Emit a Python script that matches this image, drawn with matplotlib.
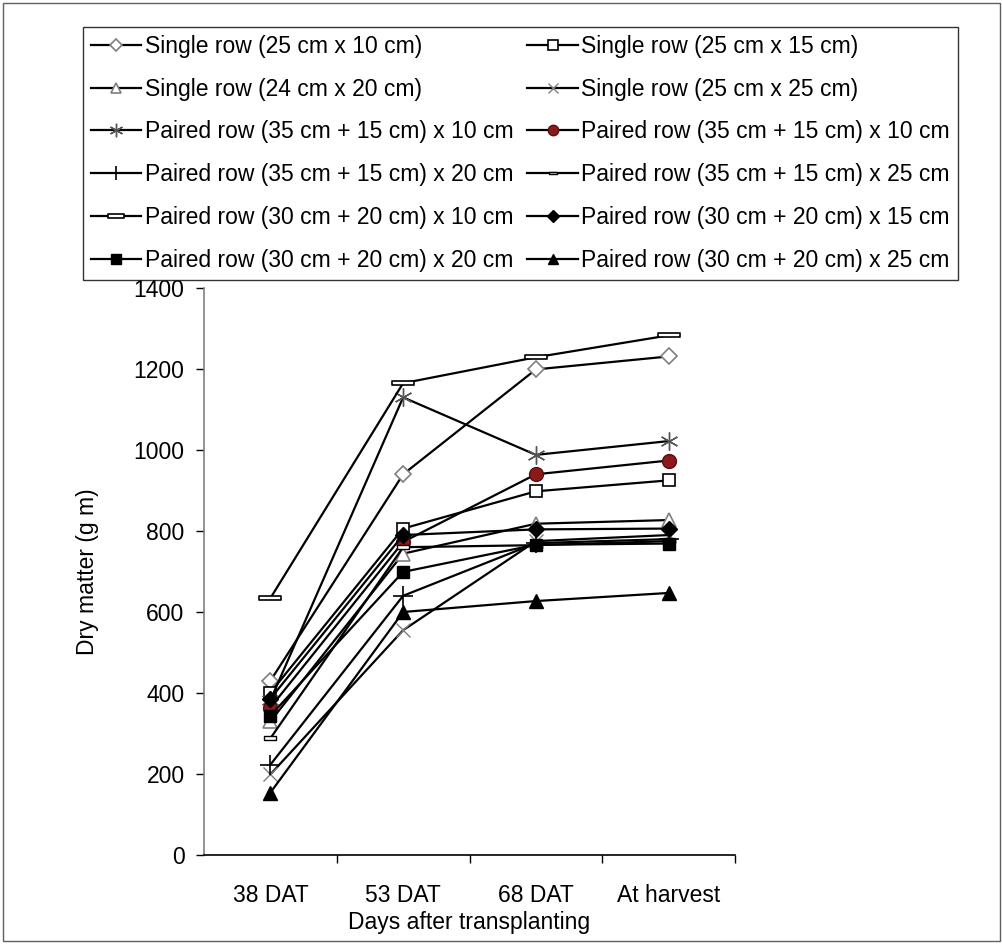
import matplotlib
matplotlib.use("Agg")
import matplotlib.pyplot as plt
from matplotlib.path import Path
from matplotlib.patches import Rectangle

plt.rcParams["font.family"] = ["Liberation Sans", "DejaVu Sans"]

# categories and values
stages = ["38 DAT", "53 DAT", "68 DAT", "At harvest"]

labels = [
    "Single row (25 cm x 10 cm)",
    "Single row (25 cm x 15 cm)",
    "Single row (24 cm x 20 cm)",
    "Single row (25 cm x 25 cm)",
    "Paired row (35 cm + 15 cm) x 10 cm",
    "Paired row (35 cm + 15 cm) x 10 cm",
    "Paired row (35 cm + 15 cm) x 20 cm",
    "Paired row (35 cm + 15 cm) x 25 cm",
    "Paired row (30 cm + 20 cm) x 10 cm",
    "Paired row (30 cm + 20 cm) x 15 cm",
    "Paired row (30 cm + 20 cm) x 20 cm",
    "Paired row (30 cm + 20 cm) x 25 cm",
]

sr_25x10 = [430, 940, 1199, 1231]
sr_25x15 = [401, 806, 898, 925]
sr_24x20 = [330, 744, 818, 827]
sr_25x25 = [199, 555, 775, 790]
pr_35_15_x10a = [382, 1130, 988, 1022]
pr_35_15_x10b = [364, 773, 940, 974]
pr_35_15_x20 = [223, 640, 770, 780]
pr_35_15_x25 = [288, 760, 765, 775]
pr_30_20_x10 = [634, 1165, 1229, 1283]
pr_30_20_x15 = [386, 790, 804, 806]
pr_30_20_x20 = [344, 699, 766, 769]
pr_30_20_x25 = [154, 600, 627, 647]

series = [sr_25x10, sr_25x15, sr_24x20, sr_25x25,
          pr_35_15_x10a, pr_35_15_x10b, pr_35_15_x20, pr_35_15_x25,
          pr_30_20_x10, pr_30_20_x15, pr_30_20_x20, pr_30_20_x25]

# bar-shaped markers like Excel's dash / long dash
long_bar = Path([(-1, -0.22), (1, -0.22), (1, 0.22), (-1, 0.22), (-1, -0.22)],
                [Path.MOVETO, Path.LINETO, Path.LINETO, Path.LINETO, Path.CLOSEPOLY])
short_bar = Path([(-1, -0.3), (1, -0.3), (1, 0.3), (-1, 0.3), (-1, -0.3)],
                 [Path.MOVETO, Path.LINETO, Path.LINETO, Path.LINETO, Path.CLOSEPOLY])

styles = [
    dict(marker="D", ms=8, mfc="white", mec="#7f7f7f", mew=1.2),
    dict(marker="s", ms=9, mfc="white", mec="black", mew=1.2),
    dict(marker="^", ms=10, mfc="white", mec="#7f7f7f", mew=1.2),
    dict(marker="x", ms=10, mfc="none", mec="#7f7f7f", mew=1.0),
    dict(marker=(6, 2, 0), ms=13, mfc="none", mec="#555555", mew=1.0),
    dict(marker="o", ms=10, mfc="#8b1a1a", mec="#5a1010", mew=1.0),
    dict(marker="+", ms=14, mfc="none", mec="black", mew=1.2),
    dict(marker=short_bar, ms=8, mfc="white", mec="black", mew=1.0),
    dict(marker=long_bar, ms=16, mfc="white", mec="black", mew=1.2),
    dict(marker="D", ms=8, mfc="black", mec="black", mew=1.0),
    dict(marker="s", ms=9, mfc="black", mec="black", mew=1.0),
    dict(marker="^", ms=10, mfc="black", mec="black", mew=1.0),
]

fig = plt.figure(figsize=(10.03, 9.44), dpi=100)
ax = fig.add_axes([0.2034, 0.0943, 0.5294, 0.6006])

x = list(range(len(stages)))
handles = []
for vals, lab, st in zip(series, labels, styles):
    h, = ax.plot(x, vals, color="black", lw=1.6, label=lab, **st)
    handles.append(h)

ax.set_xlim(-0.5, 3.5)
ax.set_ylim(0, 1400)
ax.set_yticks(range(0, 1401, 200))
ax.set_xticks(x)
ax.set_xticklabels(stages)
ax.set_xticks([0.5, 1.5, 2.5, 3.5], minor=True)
ax.tick_params(axis="x", which="major", length=0, pad=21, labelsize=16.5)
ax.tick_params(axis="x", which="minor", length=6, width=1, direction="out")
ax.tick_params(axis="y", length=6, width=1, direction="out", labelsize=16.5, pad=8)
for s in ["top", "right"]:
    ax.spines[s].set_visible(False)
ax.spines["left"].set_color("#808080")
ax.spines["left"].set_linewidth(1.2)
ax.spines["bottom"].set_linewidth(1.2)

ax.set_ylabel("Dry matter (g m)", fontsize=16.5, labelpad=25)
ax.set_xlabel("Days after transplanting", fontsize=16.5, labelpad=3)

# matplotlib fills columns first, Excel fills rows first
order = [0, 2, 4, 6, 8, 10, 1, 3, 5, 7, 9, 11]
leg = fig.legend([handles[i] for i in order], [labels[i] for i in order],
                 ncol=2, loc="upper left", bbox_to_anchor=(0.0828, 0.9714),
                 borderaxespad=0, fontsize=16.5, frameon=True, fancybox=False,
                 edgecolor="black", handlelength=2.2, handletextpad=0.15,
                 labelspacing=0.86, columnspacing=0.6, borderpad=0.35,
                 markerscale=0.75)
leg.get_frame().set_linewidth(1.0)

fig.patches.append(Rectangle((0.003, 0.003), 0.994, 0.994, transform=fig.transFigure,
                             fill=False, edgecolor="#606060", lw=1.0))

fig.savefig("out.png", dpi=100)
